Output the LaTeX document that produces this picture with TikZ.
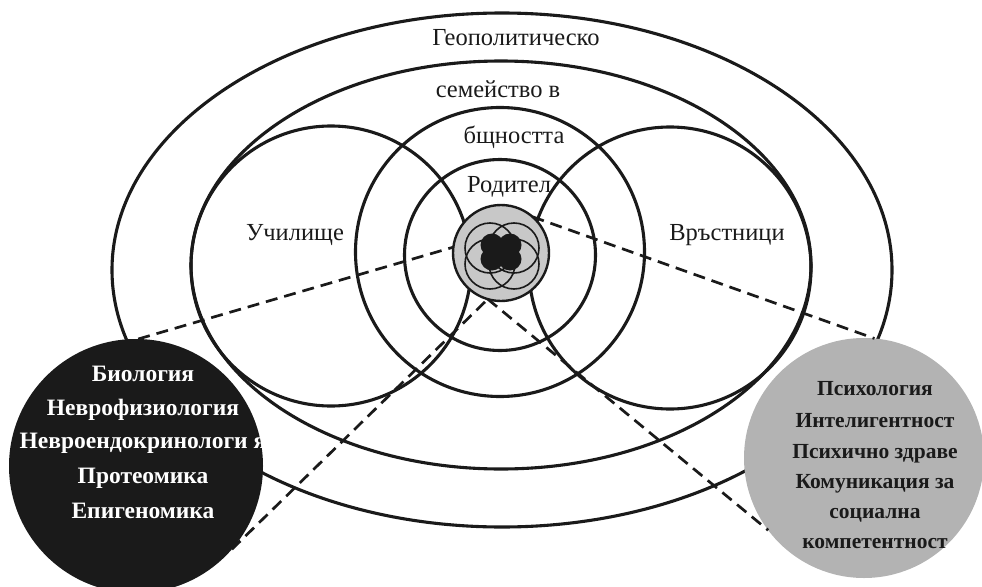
\documentclass[tikz,border=0pt]{standalone}
\usepackage{fontspec}
\setmainfont{Liberation Serif}
\definecolor{ink}{HTML}{1A1A1A}
\definecolor{midgrey}{HTML}{B3B3B3}
\definecolor{lightgrey}{HTML}{C8C8C8}
\tikzset{
  ring/.style={draw=ink, line width=3.1pt},
  thinring/.style={draw=ink, line width=1.6pt},
  dashline/.style={draw=ink, line width=2.7pt, dash pattern=on 12pt off 7pt},
  lbl/.style={anchor=base, inner sep=0pt, text=ink, font=\fontsize{24.5}{24.5}\selectfont},
  biolbl/.style={anchor=base, inner sep=0pt, text=white, font=\fontsize{23.5}{23.5}\selectfont\bfseries},
  psylbl/.style={anchor=base, inner sep=0pt, text=ink, font=\fontsize{21.5}{21.5}\selectfont\bfseries},
}
\begin{document}
\begin{tikzpicture}[x=1pt,y=-1pt]
\useasboundingbox (0,0) rectangle (982,586);
% ellipses
\draw[ring] (502,270) ellipse [x radius=390, y radius=257];
\draw[ring] (501,265) ellipse [x radius=310, y radius=204];
% circles
\draw[ring] (331,266) circle [radius=140];
\draw[ring] (670,268) circle [radius=141];
\draw[ring] (500,252) circle [radius=144.5];
\draw[ring] (500,255) circle [radius=95.5];
% filled nodes
\node[circle, fill=lightgrey, draw=ink, line width=2.4pt, minimum size=96pt, inner sep=0pt, outer sep=0pt] (core) at (501,253) {};
\node[circle, fill=ink, minimum size=254pt, inner sep=0pt, outer sep=0pt] (bio) at (136,466) {};
\node[circle, fill=midgrey, minimum size=240pt, inner sep=0pt, outer sep=0pt] (psy) at (864,458) {};
% inner flower
\foreach \dx/\dy in {-12/-8, 12/-8, -12/8, 12/8}
  \draw[thinring] (502+\dx,256+\dy) circle [radius=25];
\fill[ink] (501,252) ++(-9,-7) circle [radius=11.5] ++(18,0) circle [radius=11.5] ++(0,14) circle [radius=11.5] ++(-18,0) circle [radius=11.5];
\fill[ink] (488,241) rectangle (514,263);
% dashed connectors
\draw[dashline] (bio.89) -- (core.173);
\draw[dashline] (bio.-41) -- (core.254);
\draw[dashline] (core.49) -- (psy.85);
\draw[dashline] (core.254) -- (psy.217);
% ring labels
\node[lbl] (geo) at (516,46) {Геополитическо};
\node[lbl] (fam) at (498,97) {семейство в};
\node[lbl] (com) at (514,143) {бщността};
\node[lbl] (par) at (509,192) {Родител};
\node[lbl] (sch) at (295,240) {Училище};
\node[lbl] (peer) at (727,240) {Връстници};
% left circle text
\node[biolbl] (b1) at (143,381) {Биология};
\node[biolbl] (b2) at (143,415) {Неврофизиология};
\node[biolbl] (b3) at (143,448) {Невроендокринологи я};
\node[biolbl] (b4) at (143,483) {Протеомика};
\node[biolbl] (b5) at (143,518) {Епигеномика};
% right circle text
\node[psylbl] (p1) at (875,395) {Психология};
\node[psylbl] (p2) at (875,427) {Интелигентност};
\node[psylbl] (p3) at (875,458) {Психично здраве};
\node[psylbl] (p4) at (875,488) {Комуникация за};
\node[psylbl] (p5) at (875,518) {социална};
\node[psylbl] (p6) at (875,548) {компетентност};
\end{tikzpicture}
\end{document}
